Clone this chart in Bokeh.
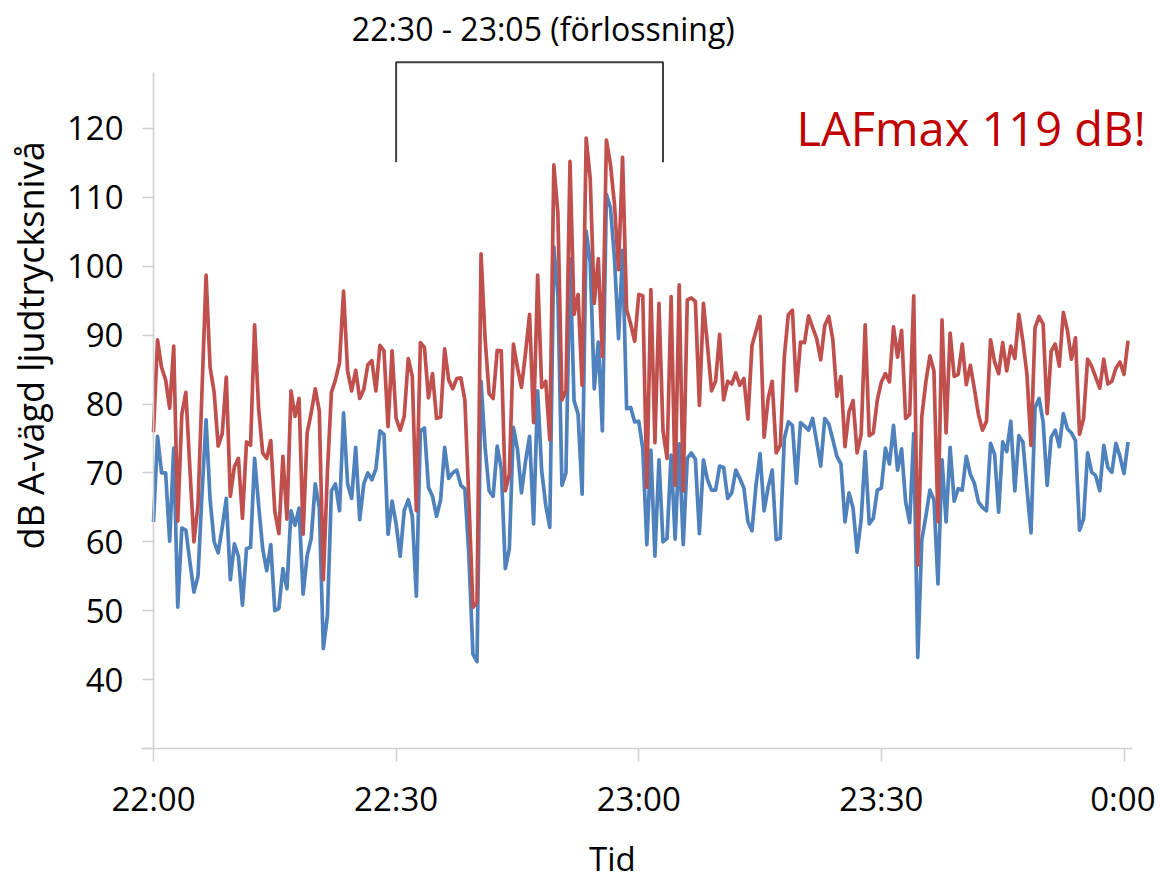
import numpy as np
from bokeh.plotting import figure
from bokeh.models import FixedTicker, Label, Range1d
from bokeh.embed import file_html
from bokeh.resources import INLINE

# LAFmax (red) and LAeq (blue) every 30 s from 22:00
lafmax = [75.9, 89.3, 85.3, 83.5, 79.4, 88.4, 63.0, 78.5, 81.7, 70.6, 60.0, 65.3, 82.0, 98.7, 85.3, 81.7, 73.9, 75.7,
          83.9, 66.6, 70.9, 72.1, 63.4, 74.5, 74.0, 91.5, 79.3, 72.9, 72.1, 74.7, 64.4, 61.2, 72.4, 63.3, 81.9, 78.2,
          80.8, 61.1, 75.8,
          78.7, 82.2, 79.0, 54.5, 70.0, 81.7, 83.5, 86.0, 96.4, 84.8, 81.9, 84.9, 80.8, 82.1, 85.7, 86.3, 81.9, 88.5,
          87.7, 76.7, 87.7, 77.9, 76.2, 78.2, 86.6, 84.0, 64.5, 88.9, 88.2, 80.9, 84.4, 77.9, 78.1, 88.0, 83.5, 82.2,
          83.7, 83.8, 80.6,
          66.0, 50.5, 51.2, 101.8, 89.5, 81.5, 80.8, 87.8, 87.7, 67.4, 69.8, 88.7, 85.3, 82.4, 87.4, 93.0, 77.3, 98.7,
          82.4, 83.3, 74.8, 114.7, 107.7, 80.6, 81.9, 115.2, 93.0, 95.9, 82.7, 118.6, 112.7, 94.6, 101.1, 86.9, 118.3,
          114.8, 109.0, 99.5, 115.8, 93.7,
          91.6, 89.1, 95.9, 95.7, 67.9, 96.6, 74.4, 94.6, 76.1, 72.1, 95.6, 68.2, 97.3, 67.4, 95.1, 95.4, 94.9, 79.8,
          94.6, 88.5, 81.9, 83.3, 90.1, 80.6, 83.3, 82.9, 84.5, 82.7, 83.7, 77.8, 88.5, 90.6, 92.7, 75.2, 80.8, 83.3,
          72.9, 74.0, 86.9, 93.0,
          93.6, 81.9, 89.0, 88.9, 92.8, 91.1, 89.5, 86.4, 91.4, 92.7, 89.3, 81.1, 84.0, 73.8, 78.9, 80.5, 72.9, 75.6,
          91.5, 75.4, 75.8, 80.6, 83.2, 84.4, 83.2, 91.2, 86.8, 90.7, 77.9, 78.5, 95.7, 56.6, 78.2, 83.2, 87.0, 84.8,
          62.9, 92.2, 75.8, 90.3,
          84.0, 84.3, 88.7, 82.8, 85.6, 82.2, 78.5, 76.2, 77.5, 89.3, 86.1, 84.4, 88.9, 84.8, 88.4, 86.6, 93.0, 89.1,
          84.3, 74.0, 91.1, 92.7, 91.6, 78.6, 87.7, 88.7, 85.5, 93.3, 90.7, 86.5, 89.6, 75.6, 77.9, 86.5, 85.5, 83.9,
          82.3, 86.5, 82.9, 83.3, 85.2, 86.1, 84.3, 89.2]

laeq = [62.9, 75.3, 70.0, 70.0, 60.1, 73.6, 50.5, 62.0, 61.7, 57.1, 52.7, 55.0, 67.0, 77.7, 66.1, 60.0, 58.4, 62.1,
        66.3, 54.5, 59.7, 57.9, 50.8, 59.0, 59.2, 72.1, 65.3, 59.0, 55.8, 59.6, 50.0, 50.3, 56.1, 53.2, 64.5, 62.4,
        64.9, 52.4, 58.0,
        60.5, 68.4, 65.0, 44.5, 49.2, 67.4, 68.4, 64.5, 78.7, 68.4, 66.3, 73.7, 63.2, 68.4, 70.0, 69.0, 70.6, 76.1,
        75.6, 61.1, 65.9, 62.6, 57.9, 64.5, 66.1, 63.7, 52.1, 76.1, 76.5, 67.9, 66.6, 63.7, 66.1, 73.7, 69.2, 70.0,
        70.4, 68.2, 67.7,
        57.9, 43.7, 42.6, 83.3, 73.7, 67.4, 66.6, 73.9, 70.6, 56.1, 59.0, 76.6, 73.5, 67.1, 71.7, 75.3, 62.6, 81.9,
        70.3, 65.3, 62.1, 102.8, 95.9, 68.2, 70.0, 101.1, 80.5, 78.5, 66.9, 105.1, 100.6, 82.2, 89.0, 76.1, 110.4,
        108.5, 101.1, 89.5, 102.3, 79.3,
        79.5, 77.4, 77.5, 73.5, 59.6, 73.3, 57.9, 71.9, 60.0, 60.5, 72.6, 60.4, 74.2, 59.6, 72.1, 72.9, 72.0, 61.2,
        71.9, 69.0, 67.5, 67.5, 71.0, 70.8, 66.3, 67.1, 70.4, 69.2, 67.8, 62.9, 61.6, 68.2, 72.8, 64.5, 67.9, 70.4,
        60.3, 60.5, 75.0, 77.4,
        76.9, 68.5, 77.3, 76.8, 76.2, 77.9, 74.5, 71.0, 77.9, 77.1, 74.8, 72.4, 71.3, 62.9, 67.1, 64.9, 58.5, 63.2,
        73.1, 62.6, 63.4, 67.5, 67.8, 73.6, 71.3, 76.9, 70.4, 73.5, 65.8, 62.8, 75.7, 43.2, 60.3, 63.7, 67.5, 66.1,
        53.9, 71.9, 62.9, 73.7,
        65.9, 67.7, 67.5, 72.4, 69.8, 68.5, 65.8, 65.0, 64.5, 74.3, 72.7, 64.3, 74.5, 73.1, 77.5, 67.4, 75.4, 74.5,
        67.7, 61.3, 79.5, 80.8, 77.4, 68.2, 75.2, 76.2, 73.8, 78.6, 76.4, 75.8, 74.7, 61.7, 63.3, 72.9, 70.1, 69.6,
        67.4, 74.0, 70.8, 70.1, 74.3, 72.4, 69.9, 74.5]

SAMPLE_MINUTES = 0.5
x_tick_minutes = [0, 30, 60, 90, 120]
x_tick_labels = ["22:00", "22:30", "23:00", "23:30", "0:00"]
y_ticks = [30, 40, 50, 60, 70, 80, 90, 100, 110, 120]
y_tick_labels = ["", "40", "50", "60", "70", "80", "90", "100", "110", "120"]

period_start, period_end = 30, 63          # minutes after 22:00
bracket_low, bracket_high = 115.1, 129.6   # dB
period_text = "22:30 - 23:05 (förlossning)"
max_text = "LAFmax 119 dB!"
x_title = "Tid"
y_title = "dB A-vägd ljudtrycksnivå"

minutes = np.arange(len(lafmax)) * SAMPLE_MINUTES

W, H = 1155, 881
X0_PX, PX_PER_MIN = 153, 8.0875       # where 22:00 sits, scale
Y30_PX, PX_PER_DB = 748, 6.89         # where 30 dB sits, scale
x_range = Range1d(-X0_PX / PX_PER_MIN, (W - X0_PX) / PX_PER_MIN)
y_range = Range1d(30 - (H - Y30_PX) / PX_PER_DB, 30 + Y30_PX / PX_PER_DB)

FONT = "Open Sans"
p = figure(width=W, height=H, output_backend="svg", toolbar_location=None,
           x_range=x_range, y_range=y_range, min_border=0)
p.title.visible = False
p.outline_line_color = None
p.grid.visible = False
p.background_fill_color = "white"

p.line(minutes, laeq, line_color="#4F81BD", line_width=3.7, line_join="round")
p.line(minutes, lafmax, line_color="#C0504D", line_width=3.7, line_join="round")

AXIS_COL = "#D0D0D0"
for ax in (p.xaxis[0], p.yaxis[0]):
    ax.axis_line_color = AXIS_COL
    ax.axis_line_width = 1.5
    ax.major_tick_line_color = AXIS_COL
    ax.major_tick_line_width = 1.5
    ax.major_tick_in = 0
    ax.minor_tick_line_color = None
    ax.major_label_text_font = FONT
    ax.major_label_text_font_size = "33px"
    ax.major_label_text_color = "#000000"

p.xaxis.fixed_location = 30
p.xaxis.bounds = (-1.5, 121)
p.xaxis.ticker = FixedTicker(ticks=x_tick_minutes)
p.xaxis.major_label_overrides = dict(zip(x_tick_minutes, x_tick_labels))
p.xaxis.major_tick_out = 13
p.xaxis.major_label_standoff = 14

p.yaxis.fixed_location = 0
p.yaxis.bounds = (30, 128.1)
p.yaxis.ticker = FixedTicker(ticks=y_ticks)
p.yaxis.major_label_overrides = dict(zip(y_ticks, y_tick_labels))
p.yaxis.major_tick_out = 11
p.yaxis.major_label_standoff = 19

# bracket for the delivery period
p.line([period_start, period_start, period_end, period_end],
       [bracket_low, bracket_high, bracket_high, bracket_low],
       line_color="#404040", line_width=2)

p.add_layout(Label(x=48.2, y=134.5, text=period_text, text_align="center", text_baseline="middle",
                   text_font=FONT, text_font_size="32px", text_color="#000000"))
p.add_layout(Label(x=101.1, y=120.1, text=max_text, text_align="center", text_baseline="middle",
                   text_font=FONT, text_font_size="47px", text_color="#C00000"))
p.add_layout(Label(x=56.75, y=14.1, text=x_title, text_align="center", text_baseline="middle",
                   text_font=FONT, text_font_size="33px", text_color="#000000"))
p.add_layout(Label(x=-15.2, y=88.5, text=y_title, angle=np.pi / 2, text_align="center",
                   text_baseline="middle", text_font=FONT, text_font_size="36px", text_color="#000000"))

open("out.html", "w").write(file_html(p, INLINE))
